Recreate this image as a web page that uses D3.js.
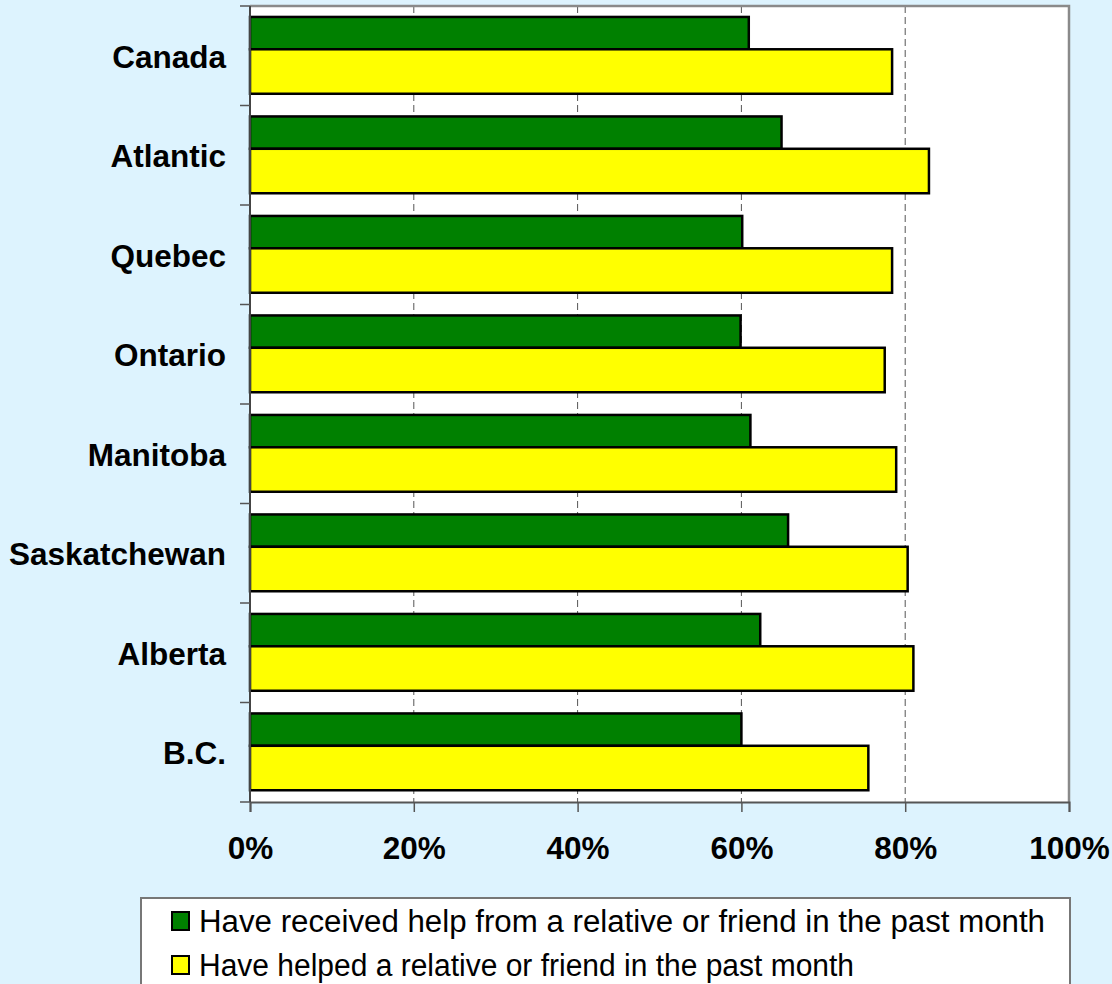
<!DOCTYPE html>
<html>
<head>
<meta charset="utf-8">
<script src="https://cdn.jsdelivr.net/npm/d3@7/dist/d3.min.js"></script>
<style>
  html, body { margin: 0; padding: 0; background: #ddf3fe; }
  svg { display: block; font-family: "Liberation Sans", Arial, sans-serif; }
</style>
</head>
<body>
<svg id="chart" width="1112" height="984"></svg>
<script>
// Regions, top to bottom
const regions = ["Canada", "Atlantic", "Quebec", "Ontario", "Manitoba", "Saskatchewan", "Alberta", "B.C."];

// Share of population (%) in each region
const receivedHelp = [60.9, 64.9, 60.1, 59.9, 61.1, 65.7, 62.3, 60.0];
const gaveHelp     = [78.4, 82.9, 78.4, 77.5, 78.9, 80.3, 81.0, 75.5];

const xTicks = [0, 20, 40, 60, 80, 100];
const seriesNames = [
  "Have received help from a relative or friend in the past month",
  "Have helped a relative or friend in the past month"
];
const seriesColors = ["#008000", "#ffff00"];

const svg = d3.select("#chart");
const plot = { left: 250, right: 1069, top: 6, bottom: 802 };

const x = d3.scaleLinear().domain([0, 100]).range([plot.left, plot.right]);
const y = d3.scaleBand().domain(regions).range([plot.top, plot.bottom]).padding(0);

// Vertical placement of the two bars inside each region band (fractions of band)
const within = d3.scaleLinear().domain([0, 1]).range([0, y.bandwidth()]);
const slots = [[0.11, 0.435], [0.435, 0.882]];

// Plot background
svg.append("rect")
  .attr("x", plot.left).attr("y", plot.top)
  .attr("width", plot.right - plot.left).attr("height", plot.bottom - plot.top)
  .attr("fill", "#ffffff");

// Dashed gridlines
svg.append("g").selectAll("line")
  .data(xTicks.filter(d => d > 0 && d < 100))
  .join("line")
  .attr("x1", d => x(d)).attr("x2", d => x(d))
  .attr("y1", plot.top).attr("y2", plot.bottom)
  .attr("stroke", "#555")
  .attr("stroke-width", 1)
  .attr("stroke-dasharray", "7,4");

// Top and right border of plot area
svg.append("path")
  .attr("d", `M${plot.left},${plot.top}H${plot.right}V${plot.bottom}`)
  .attr("fill", "none")
  .attr("stroke", "#8a8a8a")
  .attr("stroke-width", 2.5);

// Bars
const seriesData = [receivedHelp, gaveHelp];
seriesData.forEach((vals, si) => {
  svg.append("g").selectAll("rect")
    .data(regions.map((r, i) => ({ region: r, value: vals[i] })))
    .join("rect")
    .attr("x", x(0))
    .attr("y", d => y(d.region) + within(slots[si][0]))
    .attr("width", d => x(d.value) - x(0))
    .attr("height", within(slots[si][1]) - within(slots[si][0]))
    .attr("fill", seriesColors[si])
    .attr("stroke", "#000")
    .attr("stroke-width", 2.5);
});

// X axis
const xAxis = d3.axisBottom(x)
  .tickValues(xTicks)
  .tickSize(10)
  .tickFormat(d => d + "%");
const gx = svg.append("g")
  .attr("transform", `translate(0,${plot.bottom})`)
  .call(xAxis);
gx.select(".domain").attr("stroke", "#555").attr("stroke-width", 2);
gx.selectAll(".tick line").attr("stroke", "#555").attr("stroke-width", 1.5);
gx.selectAll(".tick text")
  .attr("y", 35)
  .attr("dy", "0.71em")
  .attr("fill", "#000")
  .style("font-size", "31.5px")
  .style("font-weight", "bold")
  .style("font-family", "'Liberation Sans', Arial, sans-serif");

// Y axis: ticks at band boundaries, labels at band centres
const boundaries = regions.map(r => y(r)).concat([plot.bottom]);
const gy = svg.append("g");
gy.append("line")
  .attr("x1", plot.left).attr("x2", plot.left)
  .attr("y1", plot.top).attr("y2", plot.bottom)
  .attr("stroke", "#444").attr("stroke-width", 2);
gy.selectAll("line.tick")
  .data(boundaries)
  .join("line")
  .attr("class", "tick")
  .attr("x1", plot.left - 10).attr("x2", plot.left)
  .attr("y1", d => d).attr("y2", d => d)
  .attr("stroke", "#555").attr("stroke-width", 1.5);
gy.selectAll("text")
  .data(regions)
  .join("text")
  .attr("x", 226)
  .attr("y", d => y(d) + y.bandwidth() / 2 + 1)
  .attr("dy", "0.35em")
  .attr("text-anchor", "end")
  .style("font-size", "31.5px")
  .style("font-weight", "bold")
  .text(d => d);

// Legend
const legend = svg.append("g");
legend.append("rect")
  .attr("x", 141).attr("y", 898)
  .attr("width", 929).attr("height", 100)
  .attr("fill", "#ffffff")
  .attr("stroke", "#777")
  .attr("stroke-width", 2);
const legendRows = [921, 965];
const legendWidths = [846, 655];
seriesNames.forEach((name, i) => {
  legend.append("rect")
    .attr("x", 172).attr("y", legendRows[i] - 9)
    .attr("width", 17).attr("height", 18)
    .attr("fill", seriesColors[i])
    .attr("stroke", "#000")
    .attr("stroke-width", 2);
  legend.append("text")
    .attr("x", 199).attr("y", legendRows[i])
    .attr("dy", "0.36em")
    .attr("textLength", legendWidths[i])
    .attr("lengthAdjust", "spacingAndGlyphs")
    .style("font-size", "31px")
    .text(name);
});
</script>
</body>
</html>
